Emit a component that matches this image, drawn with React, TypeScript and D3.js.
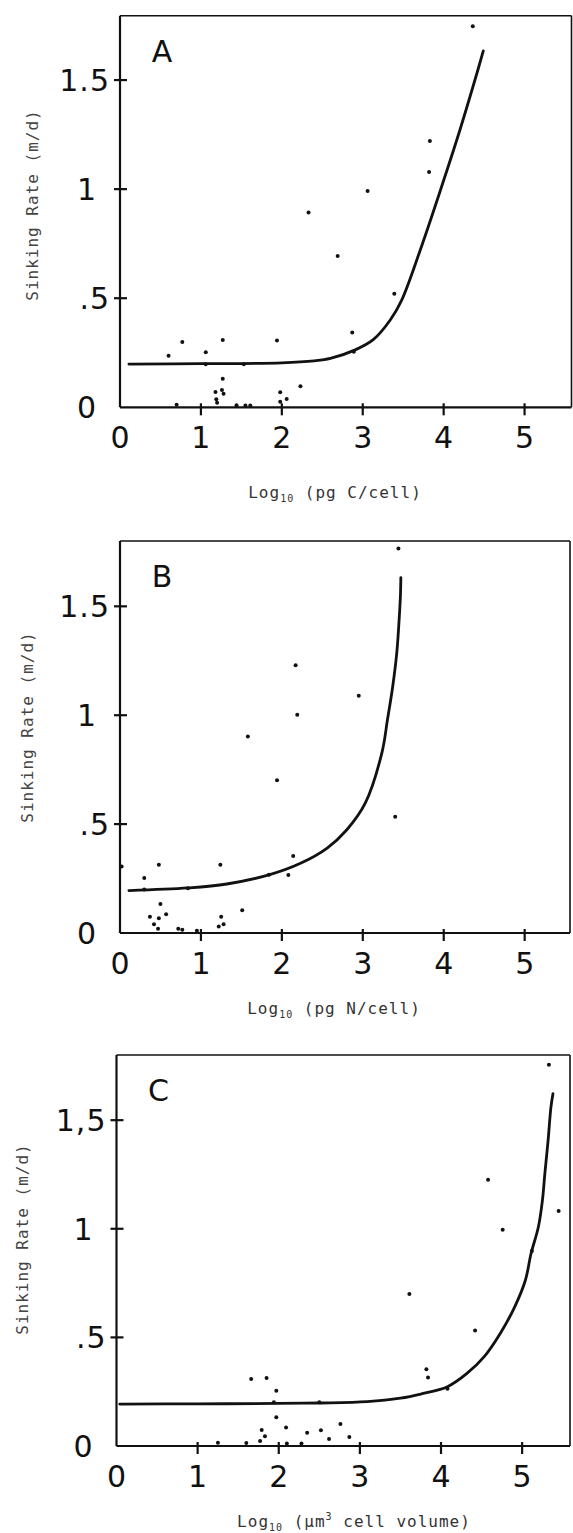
import React from 'react';
import * as d3 from 'd3';

type Pt = [number, number];

const xTickValues = [0, 1, 2, 3, 4, 5];
const yTickValues = [0, 0.5, 1, 1.5];
const yTickLabelsAB = ['0', '.5', '1', '1.5'];
const yTickLabelsC = ['0', '.5', '1', '1,5'];

// A: sinking rate vs log10 pg C per cell
const pointsA: Pt[] = [
  [4.36, 1.747], [3.83, 1.221], [3.82, 1.078], [3.06, 0.991], [2.33, 0.893],
  [2.69, 0.693], [3.39, 0.52], [2.87, 0.343], [2.89, 0.255], [0.77, 0.299],
  [1.27, 0.308], [1.94, 0.306], [1.06, 0.252], [0.6, 0.236], [1.06, 0.197],
  [1.53, 0.197], [1.27, 0.131], [2.23, 0.096], [1.18, 0.07], [1.26, 0.079],
  [1.28, 0.062], [1.19, 0.037], [1.2, 0.021], [0.7, 0.012], [1.44, 0.009],
  [1.55, 0.008], [1.61, 0.008], [1.98, 0.069], [1.98, 0.026], [2.06, 0.038],
];
const curveA: Pt[] = [
  [0.11, 0.198], [1, 0.2], [2, 0.204], [2.4, 0.213], [2.6, 0.224], [2.9, 0.262],
  [3.13, 0.31], [3.34, 0.4], [3.48, 0.49], [3.71, 0.72], [3.96, 0.995],
  [4.2, 1.27], [4.41, 1.53], [4.49, 1.634],
];

// B: log10 pg N per cell
const pointsB: Pt[] = [
  [3.44, 1.766], [2.17, 1.229], [2.95, 1.089], [2.19, 1.002], [1.58, 0.902],
  [1.94, 0.701], [3.4, 0.534], [2.14, 0.353], [2.08, 0.266], [1.24, 0.313],
  [0.48, 0.313], [0.02, 0.305], [0.3, 0.252], [0.3, 0.2], [0.84, 0.206],
  [1.84, 0.267], [0.5, 0.133], [0.57, 0.086], [0.37, 0.075], [0.48, 0.068],
  [1.25, 0.075], [1.51, 0.104], [0.42, 0.04], [0.47, 0.02], [0.72, 0.02],
  [0.77, 0.015], [0.95, 0.01], [1.28, 0.04], [1.22, 0.03],
];
const curveB: Pt[] = [
  [0.11, 0.195], [0.84, 0.207], [1.32, 0.225], [1.85, 0.268], [2.23, 0.32],
  [2.56, 0.39], [2.8, 0.473], [3.03, 0.596], [3.235, 0.826], [3.305, 0.98],
  [3.37, 1.133], [3.42, 1.287], [3.449, 1.44], [3.465, 1.55], [3.47, 1.632],
];

// C: log10 cell volume
const pointsC: Pt[] = [
  [5.33, 1.755], [4.58, 1.226], [5.45, 1.082], [4.76, 0.996], [5.12, 0.898],
  [3.61, 0.7], [4.42, 0.532], [3.82, 0.353], [3.84, 0.315], [4.08, 0.263],
  [1.66, 0.309], [1.85, 0.313], [1.97, 0.254], [1.94, 0.201], [2.5, 0.201],
  [1.97, 0.132], [2.09, 0.085], [1.79, 0.074], [1.83, 0.045], [1.77, 0.023],
  [2.52, 0.072], [2.35, 0.061], [2.76, 0.101], [2.62, 0.032], [2.87, 0.041],
  [1.25, 0.015], [1.6, 0.014], [2.1, 0.012], [2.28, 0.012],
];
const curveC: Pt[] = [
  [0.04, 0.193], [1, 0.194], [2, 0.196], [2.5, 0.198], [3.09, 0.204],
  [3.5, 0.22], [3.75, 0.239], [4.08, 0.273], [4.32, 0.334], [4.53, 0.41],
  [4.73, 0.518], [4.91, 0.642], [5.04, 0.763], [5.11, 0.886], [5.2, 1.008],
  [5.25, 1.131], [5.28, 1.254], [5.32, 1.407], [5.355, 1.56], [5.38, 1.622],
];

const panels = [
  {
    letter: 'A', points: pointsA, curve: curveA, yLabels: yTickLabelsAB,
    xTitle: 'pg C/cell', sup: false,
    left: 120, right: 571.5, top: 15.7, bottom: 407.3, xMax: 5.58, yMax: 1.795,
    yTitleX: 32, yTitleY: 205, xTitleX: 335, xTitleY: 498,
  },
  {
    letter: 'B', points: pointsB, curve: curveB, yLabels: yTickLabelsAB,
    xTitle: 'pg N/cell', sup: false,
    left: 120, right: 570, top: 541, bottom: 933, xMax: 5.56, yMax: 1.8,
    yTitleX: 27, yTitleY: 727, xTitleX: 334, xTitleY: 1014,
  },
  {
    letter: 'C', points: pointsC, curve: curveC, yLabels: yTickLabelsC,
    xTitle: 'cell volume', sup: true,
    left: 116.5, right: 570, top: 1055, bottom: 1446, xMax: 5.59, yMax: 1.8,
    yTitleX: 22, yTitleY: 1239, xTitleX: 354, xTitleY: 1527,
  },
];

const ink = '#111';
const numFont = '"DejaVu Sans", sans-serif';
const monoFont = '"DejaVu Sans Mono", monospace';

function Panel({ p }: { p: any }) {
  const x = d3.scaleLinear().domain([0, p.xMax]).range([p.left, p.right]);
  const y = d3.scaleLinear().domain([0, p.yMax]).range([p.bottom, p.top]);
  const line = d3.line<Pt>().x(d => x(d[0])).y(d => y(d[1])).curve(d3.curveCatmullRom.alpha(0.5));

  return (
    <g>
      {/* frame */}
      <line x1={p.left} x2={p.right} y1={p.top} y2={p.top} stroke={ink} strokeWidth={1.6} />
      <line x1={p.right} x2={p.right} y1={p.top} y2={p.bottom} stroke={ink} strokeWidth={1.6} />
      <line x1={p.left} x2={p.left} y1={p.top} y2={p.bottom} stroke={ink} strokeWidth={2.2} />
      <line x1={p.left} x2={p.right} y1={p.bottom} y2={p.bottom} stroke={ink} strokeWidth={2.2} />

      {yTickValues.filter(v => v > 0).map(v => (
        <line key={'yt' + v} x1={p.left - 6} x2={p.left + 7} y1={y(v)} y2={y(v)} stroke={ink} strokeWidth={2.2} />
      ))}
      {xTickValues.filter(v => v > 0).map(v => (
        <line key={'xt' + v} x1={x(v)} x2={x(v)} y1={p.bottom - 4} y2={p.bottom + 8} stroke={ink} strokeWidth={2.2} />
      ))}

      {yTickValues.map((v, i) => {
        const lab = p.yLabels[i];
        const hasDot = lab.length > 1;
        return (
          <text key={'yl' + v} x={hasDot ? p.left - 10 : p.left - 43} y={y(v) + 11}
            textAnchor={hasDot ? 'end' : 'start'} fontFamily={numFont} fontSize={30}
            letterSpacing={1} fill={ink}>{lab}</text>
        );
      })}
      {xTickValues.map(v => (
        <text key={'xl' + v} x={x(v)} y={p.bottom + 41} textAnchor="middle"
          fontFamily={numFont} fontSize={30} fill={ink}>{v}</text>
      ))}

      <text x={p.left + 42} y={p.top + 46} textAnchor="middle" fontFamily={numFont}
        fontSize={30} fill={ink}>{p.letter}</text>

      <path d={line(p.curve) || ''} fill="none" stroke={ink} strokeWidth={2.8} strokeLinejoin="round" strokeLinecap="round" />
      {p.points.map((d: Pt, i: number) => (
        <circle key={i} cx={x(d[0])} cy={y(d[1])} r={2} fill={ink} />
      ))}

      <text transform={`translate(${p.yTitleX},${p.yTitleY}) rotate(-90)`} textAnchor="middle"
        dominantBaseline="central" fontFamily={monoFont} fontSize={16} letterSpacing={1} fill="#444">
        Sinking Rate (m/d)
      </text>
      <text x={p.xTitleX} y={p.xTitleY} textAnchor="middle" fontFamily={monoFont}
        fontSize={16} letterSpacing={1} fill="#333">
        <tspan>Log</tspan>
        <tspan fontSize={10} dy={4}>10</tspan>
        {p.sup ? (
          <>
            <tspan dy={-4}> (µm</tspan>
            <tspan fontSize={10} dy={-7}>3</tspan>
            <tspan dy={7}> {p.xTitle})</tspan>
          </>
        ) : (
          <tspan dy={-4}> ({p.xTitle})</tspan>
        )}
      </text>
    </g>
  );
}

export default function App() {
  return (
    <div style={{ position: 'absolute', left: 0, top: 0 }}>
      <svg width={573} height={1533} style={{ display: 'block', background: '#fff' }}>
        {panels.map(p => <Panel key={p.letter} p={p} />)}
      </svg>
    </div>
  );
}
